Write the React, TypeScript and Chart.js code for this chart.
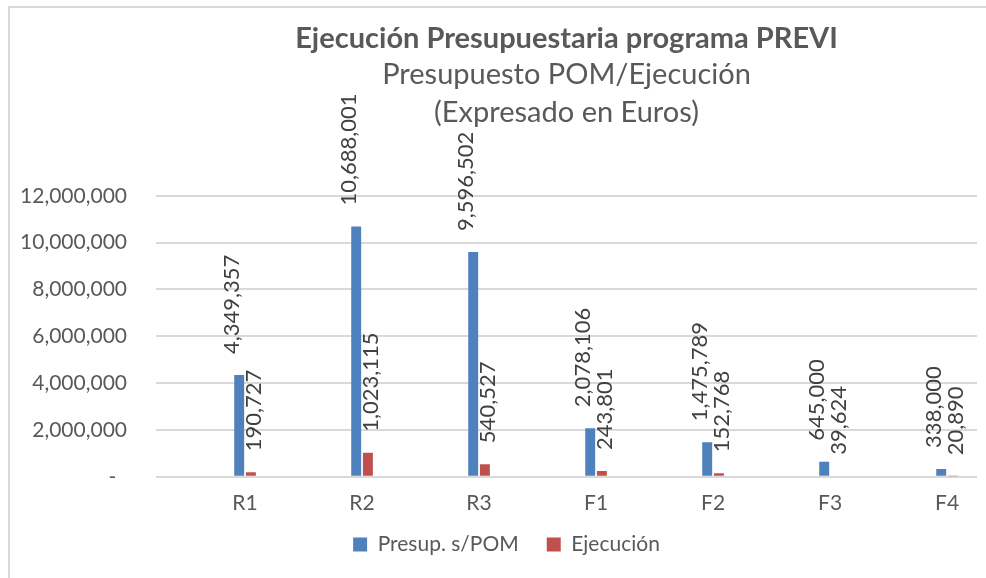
import React, { useEffect, useRef } from 'react';
import { Chart, registerables } from 'chart.js';

Chart.register(...registerables);

const categories = ['R1', 'R2', 'R3', 'F1', 'F2', 'F3', 'F4'];
const presupPOM = [4349357, 10688001, 9596502, 2078106, 1475789, 645000, 338000];
const ejecucion = [190727, 1023115, 540527, 243801, 152768, 39624, 20890];
const yTicks = [0, 2000000, 4000000, 6000000, 8000000, 10000000, 12000000];

const FONT = 'Lato, "Open Sans", sans-serif';
const fmt = (v: number) => v.toLocaleString('en-US');

const barLabels = {
  id: 'barLabels',
  afterDatasetsDraw(chart: any) {
    const ctx = chart.ctx;
    chart.data.datasets.forEach((ds: any, di: number) => {
      const meta = chart.getDatasetMeta(di);
      meta.data.forEach((el: any, i: number) => {
        const v = ds.data[i].y;
        ctx.save();
        ctx.translate(el.x + (ds.labelShift || 0), el.y - 21);
        ctx.rotate(-Math.PI / 2);
        ctx.font = `22px ${FONT}`;
        ctx.fillStyle = '#404040';
        ctx.textAlign = 'left';
        ctx.textBaseline = 'middle';
        ctx.fillText(fmt(v), 0, 0);
        ctx.restore();
      });
    });
  },
};

const legendShift = {
  id: 'legendShift',
  afterLayout(chart: any) {
    const lg = chart.legend;
    if (!lg) return;
    lg.left += 26;
    lg.top -= 24;
    lg.bottom -= 24;
  },
};

function BarChart() {
  const ref = useRef<HTMLCanvasElement>(null);
  useEffect(() => {
    if (!ref.current) return;
    const chart = new Chart(ref.current, {
      type: 'bar',
      data: {
        datasets: [
          {
            label: 'Presup. s/POM',
            data: categories.map((_, i) => ({ x: i, y: presupPOM[i] })),
            backgroundColor: '#4F81BD',
            categoryPercentage: 0.2,
            barPercentage: 0.85,
            labelShift: -7,
          } as any,
          {
            label: 'Ejecución',
            data: categories.map((_, i) => ({ x: i, y: ejecucion[i] })),
            backgroundColor: '#C0504D',
            categoryPercentage: 0.2,
            barPercentage: 0.85,
            labelShift: 3,
          } as any,
        ],
      },
      options: {
        animation: false,
        responsive: false,
        maintainAspectRatio: false,
        layout: { padding: { left: 0, right: 9, top: 0, bottom: -11 } },
        scales: {
          x: {
            type: 'linear',
            offset: false,
            min: -0.761,
            max: 6.256,
            grid: { display: false, drawTicks: false, offset: false },
            border: { display: false },
            ticks: {
              stepSize: 1,
              includeBounds: false,
              autoSkip: false,
              maxRotation: 0,
              padding: 14,
              color: '#595959',
              font: { family: FONT, size: 21 },
              callback: (v: any) => categories[v as number] ?? '',
            },
          },
          y: {
            min: 0,
            max: 12000000,
            grid: { color: '#d9d9d9', lineWidth: 2, drawTicks: false },
            border: { display: false },
            afterFit: (s: any) => {
              s.width = 146;
            },
            afterBuildTicks: (s: any) => {
              s.ticks = yTicks.map((v) => ({ value: v }));
            },
            ticks: {
              padding: 29,
              color: '#595959',
              font: { family: FONT, size: 21 },
              callback: (v: any) => (v === 0 ? '-  ' : fmt(v as number)),
            },
          },
        },
        plugins: {
          title: {
            display: true,
            fullSize: false,
            text: 'Ejecución Presupuestaria programa PREVI',
            color: '#595959',
            font: { family: FONT, size: 29, weight: 'bold', lineHeight: 1.2 },
            padding: { top: 13, bottom: 0 },
          },
          subtitle: {
            display: true,
            fullSize: false,
            text: ['Presupuesto POM/Ejecución', '(Expresado en Euros)'],
            color: '#595959',
            font: { family: FONT, size: 29, lineHeight: 38 / 29 },
            padding: { top: 0, bottom: 64 },
          },
          legend: {
            position: 'bottom',
            labels: {
              boxWidth: 14,
              boxHeight: 14,
              padding: 28,
              color: '#595959',
              font: { family: FONT, size: 21 },
            },
          },
          tooltip: { enabled: false },
        },
      } as any,
      plugins: [barLabels, legendShift],
    });
    return () => chart.destroy();
  }, []);
  return <canvas ref={ref} width={976} height={570} style={{ display: 'block' }} />;
}

export default function App() {
  return (
    <div
      style={{
        position: 'fixed',
        left: 8,
        top: 6,
        width: 976,
        height: 570,
        borderLeft: '2px solid #d9d9d9',
        borderTop: '2px solid #d9d9d9',
        background: '#fff',
        overflow: 'hidden',
      }}
    >
      <BarChart />
    </div>
  );
}
